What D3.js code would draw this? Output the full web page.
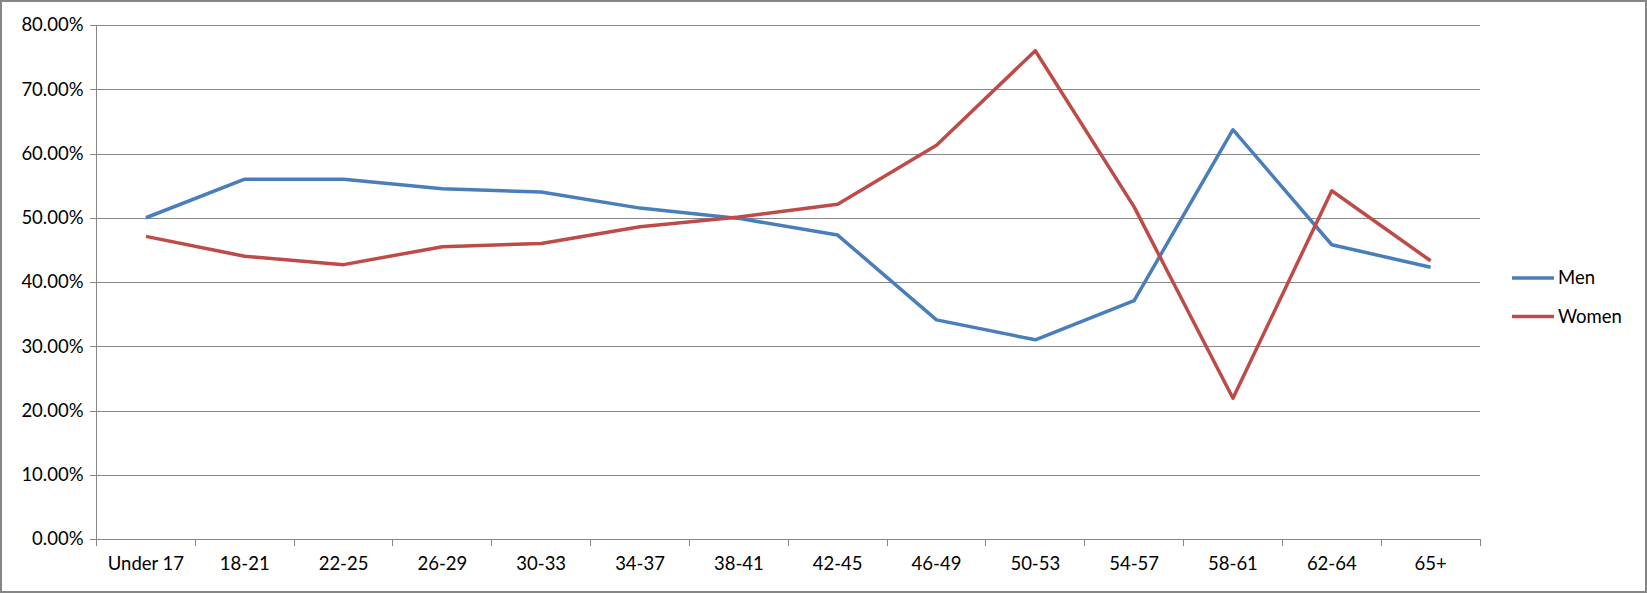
<!DOCTYPE html>
<meta charset="utf-8">
<script src="https://d3js.org/d3.v7.min.js"></script>
<style>
  body { margin: 0; background: #fff; }
  text { font-family: Lato, "Noto Sans", sans-serif; font-size: 18.5px; fill: #000; }
</style>
<div id="chart"></div>
<script>

// categories and series values (fractions)
var ageGroups = ["Under 17", "18-21", "22-25", "26-29", "30-33", "34-37", "38-41",
                 "42-45", "46-49", "50-53", "54-57", "58-61", "62-64", "65+"];
var menValues   = [0.500, 0.560, 0.560, 0.545, 0.540, 0.515, 0.499,
                   0.473, 0.341, 0.310, 0.371, 0.637, 0.458, 0.423];
var womenValues = [0.471, 0.440, 0.427, 0.455, 0.460, 0.486, 0.501,
                   0.521, 0.613, 0.760, 0.517, 0.219, 0.542, 0.433];
var yTicks = [0, 0.1, 0.2, 0.3, 0.4, 0.5, 0.6, 0.7, 0.8];

var series = [
  {name: "Men",   values: menValues,   color: "#4a7ebb"},
  {name: "Women", values: womenValues, color: "#be4b48"}
];

var W = 1647, H = 593;
var margin = {top: 25, right: 167, bottom: 54, left: 96.5};
var width = W - margin.left - margin.right,
    height = H - margin.top - margin.bottom;

var svg = d3.select("#chart")
  .append("svg")
    .attr("width", W)
    .attr("height", H);

// outer frame
svg.append("rect")
  .attr("x", 1).attr("y", 1)
  .attr("width", W - 2).attr("height", H - 2)
  .attr("fill", "none")
  .attr("stroke", "#868686")
  .attr("stroke-width", 2);

var g = svg.append("g")
  .attr("transform", "translate(" + margin.left + "," + margin.top + ")");

var x = d3.scaleBand()
  .domain(ageGroups)
  .range([0, width])
  .padding(0);

var y = d3.scaleLinear()
  .domain([0, 0.8])
  .range([height, 0]);

// gridlines + y axis
var yAxis = g.append("g")
  .call(d3.axisLeft(y)
    .tickValues(yTicks)
    .tickFormat(d3.format(".2%"))
    .tickSize(-width)
    .tickPadding(13));
yAxis.select(".domain").remove();
yAxis.selectAll(".tick line")
  .attr("x1", -6.5)
  .attr("stroke", "#868686")
  .attr("shape-rendering", "crispEdges");
yAxis.selectAll("text")
  .style("font-family", "Lato, 'Noto Sans', sans-serif")
  .style("font-size", "18.5px")
  .attr("fill", "#000");

// vertical axis line
g.append("line")
  .attr("x1", 0).attr("x2", 0)
  .attr("y1", 0).attr("y2", height + 7)
  .attr("stroke", "#868686")
  .attr("shape-rendering", "crispEdges");

// x axis (ticks between categories)
var xAxis = g.append("g")
  .attr("transform", "translate(0," + height + ")")
  .call(d3.axisBottom(x).tickSize(0).tickPadding(18));
xAxis.select(".domain")
  .attr("stroke", "#868686")
  .attr("shape-rendering", "crispEdges");
xAxis.selectAll("text")
  .style("font-family", "Lato, 'Noto Sans', sans-serif")
  .style("font-size", "18.5px")
  .attr("fill", "#000");

var bounds = ageGroups.map(function(d) { return x(d); }).concat([width]);
xAxis.selectAll(".sep")
  .data(bounds.slice(1))
  .enter().append("line")
    .attr("class", "sep")
    .attr("x1", function(d) { return d; })
    .attr("x2", function(d) { return d; })
    .attr("y1", 0).attr("y2", 7)
    .attr("stroke", "#868686")
    .attr("shape-rendering", "crispEdges");

// lines
var line = d3.line()
  .x(function(d, i) { return x(ageGroups[i]) + x.bandwidth() / 2; })
  .y(function(d) { return y(d); });

g.selectAll(".series")
  .data(series)
  .enter().append("path")
    .attr("class", "series")
    .attr("d", function(d) { return line(d.values); })
    .attr("fill", "none")
    .attr("stroke", function(d) { return d.color; })
    .attr("stroke-width", 3.5)
    .attr("stroke-linejoin", "round");

// legend
var legend = svg.selectAll(".legend")
  .data(series)
  .enter().append("g")
    .attr("class", "legend")
    .attr("transform", function(d, i) { return "translate(1512," + (278 + i * 38.5) + ")"; });

legend.append("line")
  .attr("x1", 0).attr("x2", 42)
  .attr("stroke", function(d) { return d.color; })
  .attr("stroke-width", 3.5);

legend.append("text")
  .attr("x", 46)
  .attr("dy", "0.35em")
  .text(function(d) { return d.name; });

</script>
